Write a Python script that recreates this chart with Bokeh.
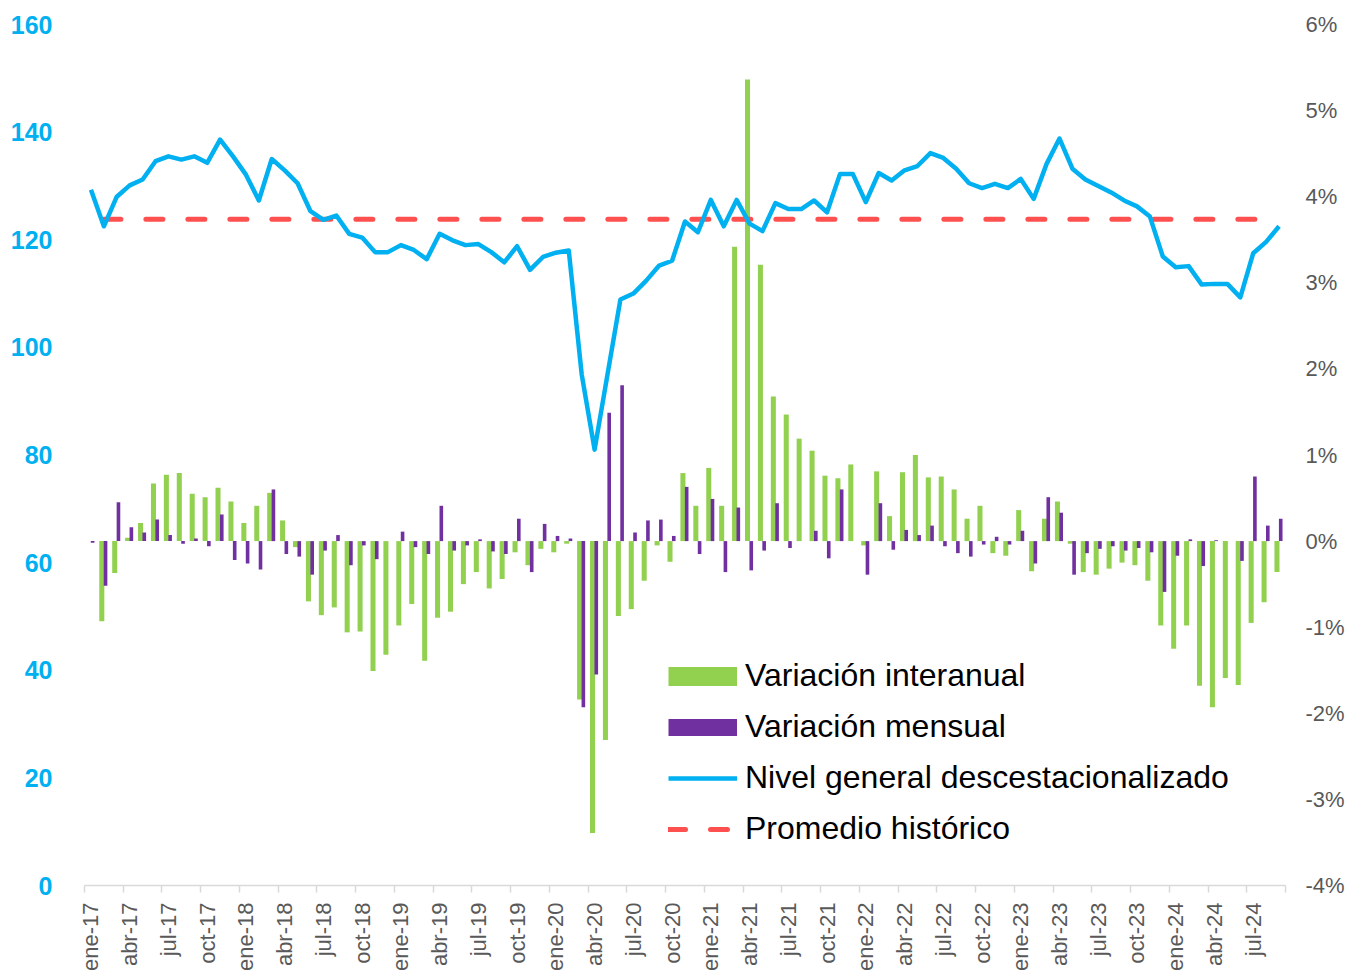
import numpy as np
from bokeh.plotting import figure
from bokeh.models import (Range1d, LinearAxis, FixedTicker, PrintfTickFormatter,
                          Legend, LegendItem, ColumnDataSource)
from bokeh.transform import dodge
from bokeh.embed import file_html
from bokeh.resources import INLINE

# ---------------- data ----------------
meses = ["ene", "feb", "mar", "abr", "may", "jun", "jul", "ago", "sep", "oct", "nov", "dic"]
periodos = [f"{meses[k % 12]}-{17 + k // 12}" for k in range(93)]  # ene-17 ... sep-24

nivel = [129.3, 122.5, 128.0, 130.1, 131.2, 134.6, 135.5, 134.9, 135.5, 134.3, 138.6, 135.5,
         132.1, 127.3, 135.0, 132.9, 130.5, 125.3, 123.7, 124.5, 121.1, 120.4, 117.7, 117.7,
         119.0, 118.1, 116.4, 121.1, 119.9, 119.0, 119.2, 117.7, 115.8, 118.8, 114.4, 116.8,
         117.6, 118.0, 95.0, 81.0, 95.0, 108.9, 110.0, 112.4, 115.2, 116.1, 123.4, 121.4,
         127.4, 122.5, 127.4, 123.0, 121.6, 126.8, 125.7, 125.7, 127.3, 125.1, 132.2, 132.2,
         127.0, 132.4, 131.0, 132.9, 133.7, 136.1, 135.2, 133.2, 130.5, 129.6, 130.4, 129.6,
         131.3, 127.6, 134.1, 138.8, 133.2, 131.2, 130.0, 128.8, 127.3, 126.2, 124.3, 116.9,
         114.9, 115.1, 111.7, 111.8, 111.8, 109.3, 117.5, 119.6, 122.5]

interanual = [0.00, -0.93, -0.37, 0.04, 0.21, 0.67, 0.77, 0.79, 0.55, 0.51, 0.62, 0.46,
              0.21, 0.41, 0.56, 0.24, -0.07, -0.70, -0.86, -0.77, -1.06, -1.05, -1.51, -1.32,
              -0.98, -0.73, -1.39, -0.89, -0.82, -0.50, -0.36, -0.55, -0.44, -0.13, -0.28, -0.09,
              -0.13, -0.03, -1.84, -3.39, -2.31, -0.87, -0.79, -0.46, -0.05, -0.24, 0.79, 0.41,
              0.85, 0.41, 3.42, 5.36, 3.21, 1.68, 1.47, 1.19, 1.05, 0.76, 0.73, 0.89,
              -0.05, 0.81, 0.29, 0.80, 1.00, 0.74, 0.75, 0.60, 0.26, 0.41, -0.14, -0.17,
              0.36, -0.35, 0.26, 0.46, -0.03, -0.36, -0.39, -0.32, -0.25, -0.28, -0.46, -0.98,
              -1.25, -0.98, -1.68, -1.93, -1.59, -1.67, -0.95, -0.71, -0.36]

mensual = [-0.02, -0.52, 0.45, 0.16, 0.10, 0.25, 0.07, -0.03, 0.03, -0.06, 0.31, -0.22,
           -0.26, -0.33, 0.60, -0.15, -0.18, -0.39, -0.11, 0.07, -0.28, -0.05, -0.21, 0.00,
           0.11, -0.07, -0.15, 0.41, -0.11, -0.05, 0.02, -0.12, -0.15, 0.26, -0.36, 0.20,
           0.06, 0.03, -1.93, -1.55, 1.49, 1.81, 0.10, 0.24, 0.25, 0.06, 0.63, -0.15,
           0.49, -0.36, 0.39, -0.34, -0.11, 0.44, -0.08, 0.00, 0.12, -0.20, 0.60, 0.00,
           -0.39, 0.44, -0.10, 0.13, 0.07, 0.18, -0.06, -0.14, -0.18, -0.04, 0.05, -0.04,
           0.12, -0.26, 0.51, 0.33, -0.39, -0.14, -0.09, -0.06, -0.11, -0.08, -0.13, -0.59,
           -0.17, 0.02, -0.29, 0.01, 0.00, -0.23, 0.75, 0.18, 0.26]

promedio_historico = 123.8
promedio = [np.nan] + [promedio_historico] * 92

left_ticks = [0, 20, 40, 60, 80, 100, 120, 140, 160]
right_ticks = [-4, -3, -2, -1, 0, 1, 2, 3, 4, 5, 6]

# ---------------- styles ----------------
FONT = "Liberation Sans"
GREEN = "#92D050"
PURPLE = "#7030A0"
BLUE = "#00B0F0"
RED = "#FF5050"
GRAY = "#595959"

idx = list(range(len(periodos)))
src = ColumnDataSource(dict(i=idx, periodo=periodos, nivel=nivel, interanual=interanual,
                            mensual=mensual, promedio=promedio))

p = figure(width=1349, height=975, output_backend="svg", toolbar_location=None,
           x_range=Range1d(-0.5, 92.5), y_range=Range1d(0, 160),
           min_border_left=84, min_border_right=64, min_border_top=24, min_border_bottom=90)
p.outline_line_color = None
p.xgrid.visible = False
p.ygrid.visible = False
p.background_fill_color = "white"
p.border_fill_color = "white"

p.extra_y_ranges = {"pct": Range1d(-4, 6)}

g_bar = p.vbar(x=dodge("i", -0.16, range=p.x_range), top="interanual", bottom=0, width=0.39,
               source=src, y_range_name="pct", fill_color=GREEN, line_color=None)
m_bar = p.vbar(x=dodge("i", 0.13, range=p.x_range), top="mensual", bottom=0, width=0.28,
               source=src, y_range_name="pct", fill_color=PURPLE, line_color=None)

prom_line = p.line(x="i", y="promedio", source=src, line_color=RED, line_width=5,
                   line_dash="17 25", line_cap="round")
niv_line = p.line(x="i", y="nivel", source=src, line_color=BLUE, line_width=4.5,
                  line_join="round")

# legend swatch proxies (nothing drawn in the plot area: NaN values)
proxy_src = ColumnDataSource(dict(x=[0, 1], y=[np.nan, np.nan]))
g_proxy = p.line(x="x", y="y", source=proxy_src, line_color=GREEN, line_width=19, line_cap="butt")
m_proxy = p.line(x="x", y="y", source=proxy_src, line_color=PURPLE, line_width=17, line_cap="butt")

# ---------------- axes ----------------
xa = p.xaxis[0]
xa.ticker = FixedTicker(ticks=list(range(0, 93, 3)),
                        minor_ticks=[k - 0.5 for k in range(0, 94, 3)])
xa.major_label_overrides = {k: periodos[k] for k in range(0, 93, 3)}
xa.major_label_orientation = np.pi / 2
xa.major_label_standoff = 10
xa.major_label_text_font = FONT
xa.major_label_text_font_size = "22px"
xa.major_label_text_color = GRAY
xa.axis_line_color = "#D9D9D9"
xa.axis_line_width = 1.5
xa.major_tick_line_color = None
xa.major_tick_out = 0
xa.major_tick_in = 0
xa.minor_tick_line_color = "#D9D9D9"
xa.minor_tick_line_width = 1.5
xa.minor_tick_out = 7
xa.minor_tick_in = 0

ya = p.yaxis[0]
ya.ticker = FixedTicker(ticks=left_ticks)
ya.major_label_text_font = FONT
ya.major_label_text_font_size = "25px"
ya.major_label_text_font_style = "bold"
ya.major_label_text_color = BLUE
ya.axis_line_color = None
ya.major_tick_line_color = None
ya.minor_tick_line_color = None
ya.major_tick_out = 0
ya.major_tick_in = 0
ya.major_label_standoff = 32

ra = LinearAxis(y_range_name="pct", ticker=FixedTicker(ticks=right_ticks),
                formatter=PrintfTickFormatter(format="%d%%"))
ra.major_label_text_font = FONT
ra.major_label_text_font_size = "22px"
ra.major_label_text_color = GRAY
ra.axis_line_color = None
ra.major_tick_line_color = None
ra.minor_tick_line_color = None
ra.major_tick_out = 0
ra.major_tick_in = 0
ra.major_label_standoff = 20
p.add_layout(ra, "right")

# ---------------- legend ----------------
legend = Legend(items=[
    LegendItem(label="Variación interanual", renderers=[g_proxy]),
    LegendItem(label="Variación mensual", renderers=[m_proxy]),
    LegendItem(label="Nivel general descestacionalizado", renderers=[niv_line]),
    LegendItem(label="Promedio histórico", renderers=[prom_line]),
], location=(584, 38), glyph_width=69, glyph_height=20, label_height=37,
    label_standoff=8, spacing=14, padding=0, margin=0,
    label_text_font=FONT, label_text_font_size="32px", label_text_color="#000000",
    border_line_color=None, background_fill_alpha=0)
p.add_layout(legend)

open("out.html", "w").write(file_html(p, INLINE))
